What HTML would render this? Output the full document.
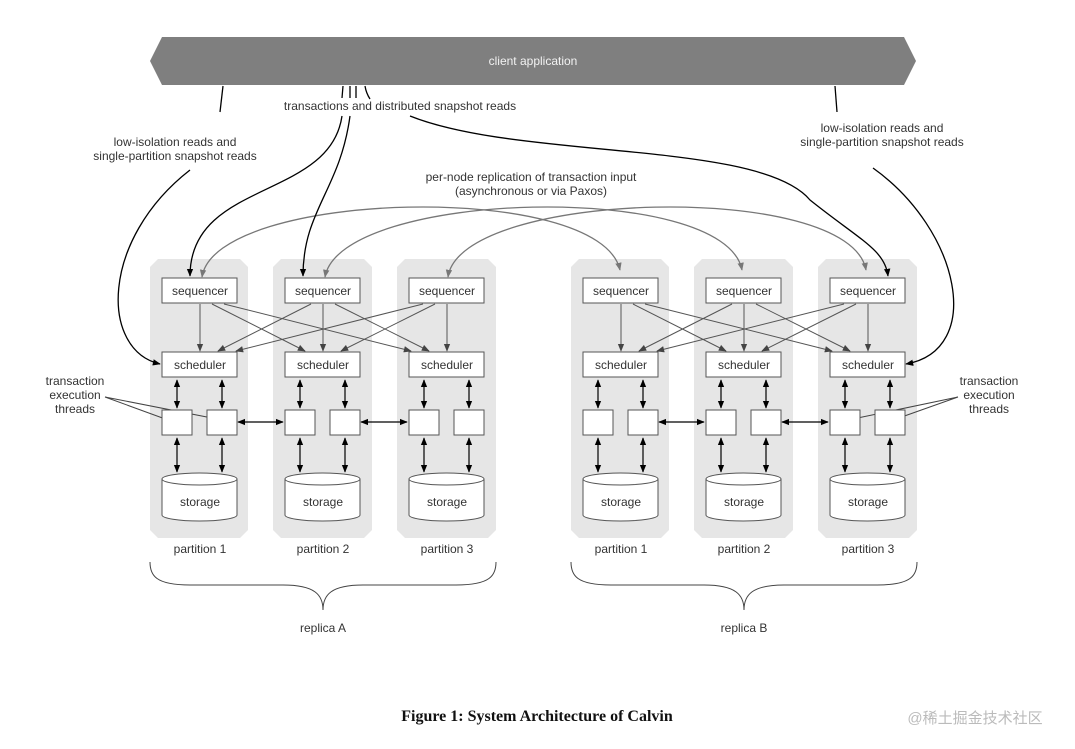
<!DOCTYPE html>
<html><head><meta charset="utf-8"><style>
body{margin:0;background:#fff}
svg{display:block}
text{font-family:"Liberation Sans",sans-serif;fill:#333;font-size:12px}
</style></head><body>
<svg width="1075" height="749" viewBox="0 0 1075 749" xmlns="http://www.w3.org/2000/svg">
<defs>
<marker id="b" viewBox="0 0 10 10" refX="9" refY="5" markerWidth="8" markerHeight="8" orient="auto-start-reverse" markerUnits="userSpaceOnUse"><path d="M0,1 L10,5 L0,9z" fill="#000"/></marker>
<marker id="g" viewBox="0 0 10 10" refX="9" refY="5" markerWidth="8" markerHeight="8" orient="auto-start-reverse" markerUnits="userSpaceOnUse"><path d="M0,1 L10,5 L0,9z" fill="#777"/></marker>
<marker id="d" viewBox="0 0 10 10" refX="9" refY="5" markerWidth="8" markerHeight="8" orient="auto-start-reverse" markerUnits="userSpaceOnUse"><path d="M0,1 L10,5 L0,9z" fill="#444"/></marker>
</defs>
<rect width="1075" height="749" fill="#fff"/>
<polygon points="162,37 904,37 916,61 904,85 162,85 150,61" fill="#7f7f7f"/>
<text x="533" y="65" text-anchor="middle" fill="#f0f0f0" style="fill:#f2f2f2">client application</text>
<text x="400" y="110" text-anchor="middle">transactions and distributed snapshot reads</text>
<text x="175" y="146" text-anchor="middle">low-isolation reads and</text>
<text x="175" y="160" text-anchor="middle">single-partition snapshot reads</text>
<text x="882" y="132" text-anchor="middle">low-isolation reads and</text>
<text x="882" y="146" text-anchor="middle">single-partition snapshot reads</text>
<text x="531" y="181" text-anchor="middle">per-node replication of transaction input</text>
<text x="531" y="195" text-anchor="middle">(asynchronous or via Paxos)</text>

<!-- partitions -->
<g fill="#e6e6e6">
<polygon points="158,259 240,259 248,267 248,530 240,538 158,538 150,530 150,267"/>
<polygon points="281,259 364,259 372,267 372,530 364,538 281,538 273,530 273,267"/>
<polygon points="405,259 488,259 496,267 496,530 488,538 405,538 397,530 397,267"/>
<polygon points="579,259 661,259 669,267 669,530 661,538 579,538 571,530 571,267"/>
<polygon points="702,259 785,259 793,267 793,530 785,538 702,538 694,530 694,267"/>
<polygon points="826,259 909,259 917,267 917,530 909,538 826,538 818,530 818,267"/>
</g>

<g id="rA">
</g>

<!-- replication arcs -->
<g fill="none" stroke="#777" stroke-width="1.3">
<path d="M202,277 C215,190 600,180 620,270" marker-start="url(#g)" marker-end="url(#g)"/>
<path d="M325,277 C340,190 725,180 742,270" marker-start="url(#g)" marker-end="url(#g)"/>
<path d="M448,277 C460,190 850,180 866,270" marker-start="url(#g)" marker-end="url(#g)"/>
</g>

<!-- client arrows -->
<g fill="none" stroke="#000" stroke-width="1.3">
<path d="M223,86 L220,112"/>
<path d="M190,170 C100,240 100,350 160,364" marker-end="url(#b)"/>
<path d="M835,86 L837,112"/>
<path d="M873,168 C960,230 985,350 906,364" marker-end="url(#b)"/>
<path d="M343,86 L342,98"/><path d="M350,86 L350,98"/><path d="M356,86 L356,98"/><path d="M365,86 C366,92 368,96 370,99"/>
<path d="M342,116 C330,200 190,180 190,276" marker-end="url(#b)"/>
<path d="M350,116 C340,190 303,210 303,276" marker-end="url(#b)"/>
<path d="M310,0" />
<path d="M410,116 C520,160 760,140 810,200 C860,240 885,250 888,276" marker-end="url(#b)"/>
<path d="M62,0"/>
</g>

<!-- thread labels -->
<text x="75" y="385" text-anchor="middle">transaction</text>
<text x="75" y="399" text-anchor="middle">execution</text>
<text x="75" y="413" text-anchor="middle">threads</text>
<text x="989" y="385" text-anchor="middle">transaction</text>
<text x="989" y="399" text-anchor="middle">execution</text>
<text x="989" y="413" text-anchor="middle">threads</text>
<g stroke="#444" stroke-width="1">
<path d="M105,397 L168,420 M105,397 L217,419"/>
<path d="M958,397 L848,420 M958,397 L896,419"/>
</g>

<g id="parts"></g>
<script>
const cols=[150,273,397,571,694,818];
const ns="http://www.w3.org/2000/svg";
const svg=document.querySelector('svg');
function el(t,a,txt){const e=document.createElementNS(ns,t);for(const k in a)e.setAttribute(k,a[k]);if(txt)e.textContent=txt;svg.appendChild(e);return e;}
cols.forEach((c,i)=>{
 const L=c+12,cx=c+50;
 el('rect',{x:L,y:278,width:75,height:25,fill:'#fff',stroke:'#555','stroke-width':1});
 el('text',{x:cx,y:295,'text-anchor':'middle'},'sequencer');
 el('rect',{x:L,y:352,width:75,height:25,fill:'#fff',stroke:'#555','stroke-width':1});
 el('text',{x:cx,y:369,'text-anchor':'middle'},'scheduler');
 [L,L+45].forEach(x=>{
  el('rect',{x:x,y:410,width:30,height:25,fill:'#fff',stroke:'#555','stroke-width':1});
  el('line',{x1:x+15,y1:380,x2:x+15,y2:408,stroke:'#000','stroke-width':1.2,'marker-start':'url(#b)','marker-end':'url(#b)'});
  el('line',{x1:x+15,y1:438,x2:x+15,y2:472,stroke:'#000','stroke-width':1.2,'marker-start':'url(#b)','marker-end':'url(#b)'});
 });
 el('path',{d:`M${L},479 L${L},515 A37.5,6 0 0 0 ${L+75},515 L${L+75},479 A37.5,6 0 0 0 ${L},479 A37.5,6 0 0 0 ${L+75},479`,fill:'#fff',stroke:'#555','stroke-width':1});
 el('text',{x:cx,y:506,'text-anchor':'middle'},'storage');
 el('text',{x:cx,y:553,'text-anchor':'middle'},'partition '+(i%3+1));
});
[0,3].forEach(s=>{
 const c=cols.slice(s,s+3);
 for(let a=0;a<3;a++)for(let b=0;b<3;b++){
  const sx=c[a]+50+(b-a)*12, ex=c[b]+50+(a-b)*18;
  el('line',{x1:a==b?c[a]+50:sx,y1:304,x2:a==b?c[b]+50:ex,y2:351,stroke:'#555','stroke-width':1,'marker-end':'url(#d)'});
 }
 // inter-partition thread arrows
 el('line',{x1:c[0]+88,y1:422,x2:c[1]+10,y2:422,stroke:'#000','stroke-width':1.2,'marker-start':'url(#b)','marker-end':'url(#b)'});
 el('line',{x1:c[1]+88,y1:422,x2:c[2]+10,y2:422,stroke:'#000','stroke-width':1.2,'marker-start':'url(#b)','marker-end':'url(#b)'});
 const l=c[0],r=c[2]+99,m=(l+r)/2;
 el('path',{d:`M${l},562 C${l},575 ${l+5},585 ${l+40},585 L${m-40},585 C${m-8},585 ${m},595 ${m},610 C${m},595 ${m+8},585 ${m+40},585 L${r-40},585 C${r-5},585 ${r},575 ${r},562`,fill:'none',stroke:'#444','stroke-width':1});
 el('text',{x:m,y:632,'text-anchor':'middle'},s?'replica B':'replica A');
});
</script>
<text x="537" y="721" text-anchor="middle" style="font-family:'Liberation Serif',serif;font-weight:bold;font-size:16px;fill:#111">Figure 1: System Architecture of Calvin</text>
<text x="975" y="723" text-anchor="middle" style="font-family:'Liberation Sans','Noto Sans CJK SC',sans-serif;font-size:15px;fill:#bbb">@稀土掘金技术社区</text>
</svg>
</body></html>
